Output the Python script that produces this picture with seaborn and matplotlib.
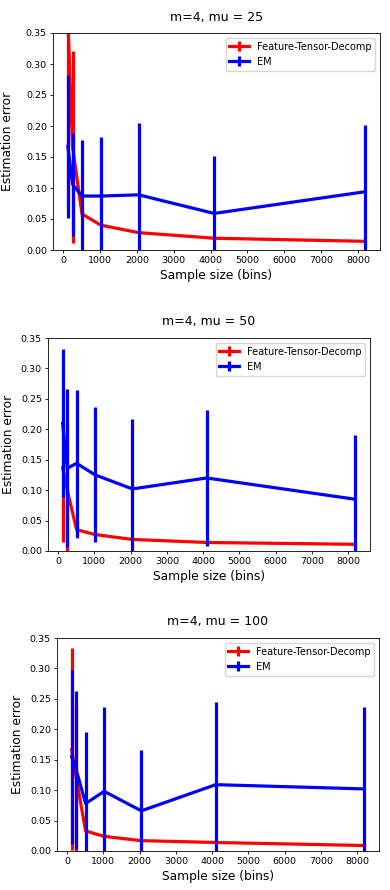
import matplotlib
matplotlib.use("Agg")
import matplotlib.pyplot as plt
import seaborn as sns

sizes = [128, 256, 512, 1024, 2048, 4096, 8192]

titles = ["m=4, mu = 25", "m=4, mu = 50", "m=4, mu = 100"]

# Feature-Tensor-Decomp (mean, error) per panel
ftd_mean = [
    [0.37, 0.166, 0.058, 0.040, 0.028, 0.019, 0.014],
    [0.137, 0.100, 0.035, 0.027, 0.019, 0.014, 0.011],
    [0.167, 0.120, 0.033, 0.024, 0.017, 0.014, 0.009],
]
ftd_err = [
    [0.30, 0.155, 0.004, 0.003, 0.003, 0.002, 0.002],
    [0.122, 0.110, 0.014, 0.004, 0.003, 0.002, 0.002],
    [0.166, 0.120, 0.004, 0.003, 0.002, 0.002, 0.002],
]
# EM (mean, error) per panel
em_mean = [
    [0.167, 0.106, 0.087, 0.087, 0.089, 0.059, 0.094],
    [0.210, 0.136, 0.144, 0.125, 0.102, 0.120, 0.085],
    [0.155, 0.133, 0.078, 0.098, 0.066, 0.109, 0.102],
]
em_err = [
    [0.115, 0.083, 0.091, 0.096, 0.116, 0.093, 0.107],
    [0.122, 0.130, 0.121, 0.111, 0.115, 0.111, 0.106],
    [0.143, 0.130, 0.118, 0.138, 0.100, 0.136, 0.135],
]

W, H = 390, 890
fig = plt.figure(figsize=(W / 100, H / 100), dpi=100)

# axes boxes in pixels: left, right, top, bottom
boxes = [(53, 380, 33, 250), (48, 370, 338, 551), (57, 379, 638, 851)]
ylabelpads = [8.5, 4, 4]

for i, (l, r, t, b) in enumerate(boxes):
    ax = fig.add_axes([l / W, 1 - b / H, (r - l) / W, (b - t) / H])
    sns.lineplot(x=sizes, y=ftd_mean[i], color="#ff0000", lw=2.3, ax=ax, legend=False)
    line_r = ax.lines[-1]
    err_r = ax.errorbar(sizes, ftd_mean[i], yerr=ftd_err[i], fmt="none",
                        ecolor="#ff0000", elinewidth=2.3, capsize=0)
    sns.lineplot(x=sizes, y=em_mean[i], color="#0000ff", lw=2.3, ax=ax, legend=False)
    line_b = ax.lines[-1]
    err_b = ax.errorbar(sizes, em_mean[i], yerr=em_err[i], fmt="none",
                        ecolor="#0000ff", elinewidth=2.3, capsize=0)
    ax.set_ylim(0, 0.35)
    ax.set_yticks([0, 0.05, 0.10, 0.15, 0.20, 0.25, 0.30, 0.35])
    ax.set_xticks([0, 1000, 2000, 3000, 4000, 5000, 6000, 7000, 8000])
    ax.tick_params(labelsize=6.8, length=2.2, pad=2.2, width=0.6)
    for s in ax.spines.values():
        s.set_linewidth(0.6)
    ax.set_xlabel("Sample size (bins)", fontsize=8.8, labelpad=3)
    ax.set_ylabel("Estimation error", fontsize=8.8, labelpad=ylabelpads[i])
    ax.set_title(titles[i], fontsize=9, pad=9)
    ax.legend(handles=[(line_r, err_r), (line_b, err_b)],
              labels=["Feature-Tensor-Decomp", "EM"],
              loc="upper right", fontsize=7, handlelength=2.0)

fig.savefig("out.png", dpi=100)
